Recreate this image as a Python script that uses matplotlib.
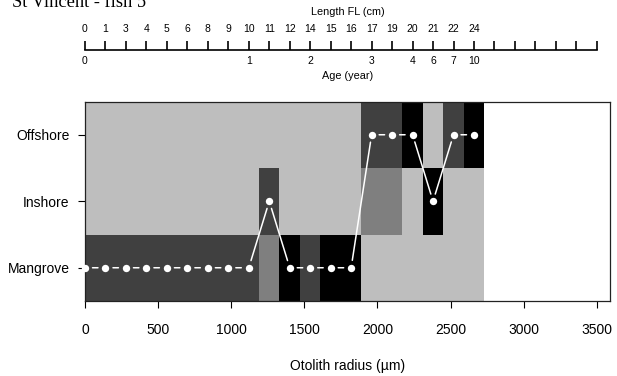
import numpy as np
import matplotlib
matplotlib.use("Agg")
import matplotlib.pyplot as plt
from matplotlib.colors import ListedColormap

plt.rcParams['font.family'] = ['Liberation Sans', 'DejaVu Sans']

# otolith radius of each point (um)
radius = [0, 140, 280, 420, 560, 700, 840, 980, 1120, 1260,
          1400, 1540, 1680, 1820, 1960, 2100, 2240, 2380, 2520, 2660]
habitats = ["Mangrove", "Inshore", "Offshore"]
point_habitat = ["Mangrove", "Mangrove", "Mangrove", "Mangrove", "Mangrove",
                 "Mangrove", "Mangrove", "Mangrove", "Mangrove", "Inshore",
                 "Mangrove", "Mangrove", "Mangrove", "Mangrove", "Offshore",
                 "Offshore", "Offshore", "Inshore", "Offshore", "Offshore"]

# grey level of each cell: 0 light, 1 mid, 2 dark, 3 black
mangrove_level = [2, 2, 2, 2, 2, 2, 2, 2, 2, 1, 3, 2, 3, 3, 0, 0, 0, 0, 0, 0]
inshore_level = [0, 0, 0, 0, 0, 0, 0, 0, 0, 2, 0, 0, 0, 0, 1, 1, 0, 3, 0, 0]
offshore_level = [0, 0, 0, 0, 0, 0, 0, 0, 0, 0, 0, 0, 0, 0, 2, 2, 3, 0, 2, 3]

length_labels = ["0", "1", "3", "4", "5", "6", "8", "9", "10", "11",
                 "12", "14", "15", "16", "17", "19", "20", "21", "22", "24"]
age_radius = [0, 1120, 1540, 1960, 2240, 2380, 2520, 2660]
age_labels = ["0", "1", "2", "3", "4", "6", "7", "10"]

greys = ListedColormap(["#bebebe", "#7f7f7f", "#404040", "#000000"])

fig = plt.figure(figsize=(6.17, 3.76), dpi=100)
L, W = 85 / 617, 525 / 617
ax = fig.add_axes([L, 1 - 301 / 376, W, 199.5 / 376])

r = np.array(radius)
edges = np.append(r - 70, r[-1] + 70)
levels = np.array([mangrove_level, inshore_level, offshore_level])
ax.pcolormesh(edges, [0.5, 1.5, 2.5, 3.5], levels, cmap=greys, vmin=-0.5, vmax=3.5)

ypos = [habitats.index(h) + 1 for h in point_habitat]
for i in range(len(radius) - 1):
    ax.annotate("", xy=(radius[i + 1], ypos[i + 1]), xytext=(radius[i], ypos[i]),
                arrowprops=dict(arrowstyle="-", color="white", lw=1.1,
                                shrinkA=5.4, shrinkB=5.4), zorder=3)
ax.plot(radius, ypos, "o", color="white", ms=5.3, mew=0, zorder=4, clip_on=False)

ax.set_xlim(0, 3590)
ax.set_ylim(0.5, 3.5)
ax.set_xticks(range(0, 3501, 500))
ax.set_yticks([1, 2, 3], habitats)
ax.tick_params(axis="x", length=5, width=0.8, pad=11, labelsize=10)
ax.tick_params(axis="y", length=5, width=0.8, pad=6, labelsize=10)
ax.set_xlabel("Otolith radius (µm)", fontsize=10, labelpad=16)
for s in ax.spines.values():
    s.set_linewidth(0.9)
    s.set_color("#222222")

# top scale: length and age
ax2 = fig.add_axes([L, 1 - 50 / 376, W, 0.0001])
ax2.set_xlim(0, 3590)
for k in ["top", "left", "right"]:
    ax2.spines[k].set_visible(False)
ax2.spines["bottom"].set_bounds(0, 3500)
ax2.spines["bottom"].set_linewidth(1.2)
ax2.set_yticks([])
ax2.xaxis.remove_overlapping_locs = False
top_ticks = np.arange(0, 3501, 140)
ax2.set_xticks(top_ticks, length_labels + [""] * (len(top_ticks) - len(length_labels)))
ax2.set_xticks(age_radius, age_labels, minor=True)
ax2.tick_params(axis="x", which="major", direction="in", length=6.5, width=1.2,
                top=False, bottom=True, labeltop=True, labelbottom=False,
                pad=11.5, labelsize=7.5)
ax2.tick_params(axis="x", which="minor", direction="in", length=0, top=False,
                bottom=True, labelbottom=True, pad=4.5, labelsize=7.5)
ax2.set_xlabel("Age (year)", fontsize=7.8, labelpad=3.5)
ax2.annotate("Length FL (cm)", xy=(0.5, 1), xycoords="axes fraction",
             xytext=(0, 27.5), textcoords="offset points", ha="center", va="center",
             fontsize=7.8)

fig.text(12 / 617, 1 - 7.3 / 376, "St Vincent - fish 5", family="Liberation Serif",
         fontsize=13.3, va="baseline", ha="left")

fig.savefig("out.png", dpi=100)
